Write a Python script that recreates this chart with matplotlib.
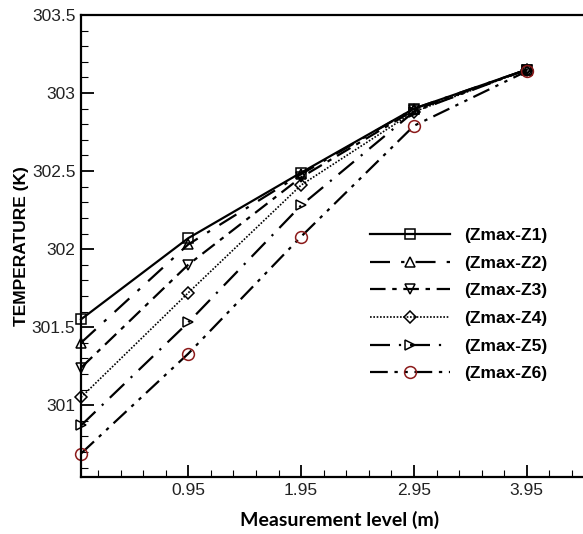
import matplotlib
matplotlib.use("Agg")
import matplotlib.pyplot as plt
from matplotlib.ticker import MultipleLocator, FixedLocator, FuncFormatter

plt.rcParams["font.family"] = ["Liberation Sans", "DejaVu Sans"]

# measurement levels (m) and temperatures (K)
levels = [0.0, 0.95, 1.95, 2.95, 3.95]
z1 = [301.55, 302.07, 302.49, 302.90, 303.15]
z2 = [301.40, 302.03, 302.48, 302.90, 303.15]
z3 = [301.24, 301.90, 302.46, 302.89, 303.15]
z4 = [301.05, 301.72, 302.41, 302.88, 303.15]
z5 = [300.87, 301.53, 302.28, 302.88, 303.15]
z6 = [300.69, 301.33, 302.08, 302.79, 303.14]
labels = ["(Zmax-Z1)", "(Zmax-Z2)", "(Zmax-Z3)", "(Zmax-Z4)", "(Zmax-Z5)", "(Zmax-Z6)"]
xticks = [0.95, 1.95, 2.95, 3.95]

W, H = 583, 534
fig = plt.figure(figsize=(W / 100, H / 100), dpi=100)
# axes box: left 81px, top 15px, bottom 477px, right edge runs past the image
ax = fig.add_axes([81 / W, (H - 477) / H, 520 / W, (477 - 15) / H])

styles = [
    dict(ls="-", marker="s"),
    dict(ls=(0, (9, 5, 1.5, 5)), marker="^"),
    dict(ls=(0, (7, 3, 2, 3)), marker="v"),
    dict(ls=(0, (1, 1)), marker="D", lw=1.2, markersize=6),
    dict(ls=(0, (9, 4, 1, 4)), marker=">"),
    dict(ls=(0, (8, 3, 1.5, 3, 1.5, 3)), marker="o", mec="#8b1a1a", markersize=8.5),
]
for ys, lab, st in zip([z1, z2, z3, z4, z5, z6], labels, styles):
    kw = dict(color="black", lw=1.6, mfc="none", mec="black", markersize=7, mew=1.1)
    kw.update(st)
    ax.plot(levels, ys, label=lab, clip_on=False, **kw)

ax.set_xlim(0, 0.95 + (601 - 187.7) / 113)
ax.set_ylim(300.54, 303.5)
ax.xaxis.set_major_locator(FixedLocator(xticks))
ax.xaxis.set_minor_locator(FixedLocator([0.15 + 0.2 * i for i in range(23)]))
ax.yaxis.set_major_locator(MultipleLocator(0.5))
ax.yaxis.set_minor_locator(MultipleLocator(0.1))
ax.yaxis.set_major_formatter(FuncFormatter(lambda v, p: f"{v:g}"))
ax.xaxis.set_major_formatter(FuncFormatter(lambda v, p: f"{v:.2f}"))

ax.tick_params(which="both", direction="in", top=False, right=False, width=1.3,
               labelsize=12.5, labelcolor="#222222")
ax.tick_params(which="major", length=9, pad=4)
ax.tick_params(which="minor", length=5, width=0.8)
for sp in ["left", "bottom", "top"]:
    ax.spines[sp].set_linewidth(1.6)
ax.spines["right"].set_visible(False)

ax.set_ylabel("TEMPERATURE (K)", fontsize=12.5, fontweight="bold", labelpad=2)
fig.text(340 / W, 1 - 520 / H, "Measurement level (m)", ha="center", va="center",
         fontsize=14, fontweight="bold", family="Lato")

leg = fig.legend(loc="upper left", bbox_to_anchor=(370 / W, 1 - 228 / H),
                 frameon=False, handlelength=4.6, handletextpad=0.8,
                 labelspacing=0.72, borderpad=0, borderaxespad=0, numpoints=1,
                 prop=dict(weight="bold", size=12.5))

fig.savefig("out.png", dpi=100)
